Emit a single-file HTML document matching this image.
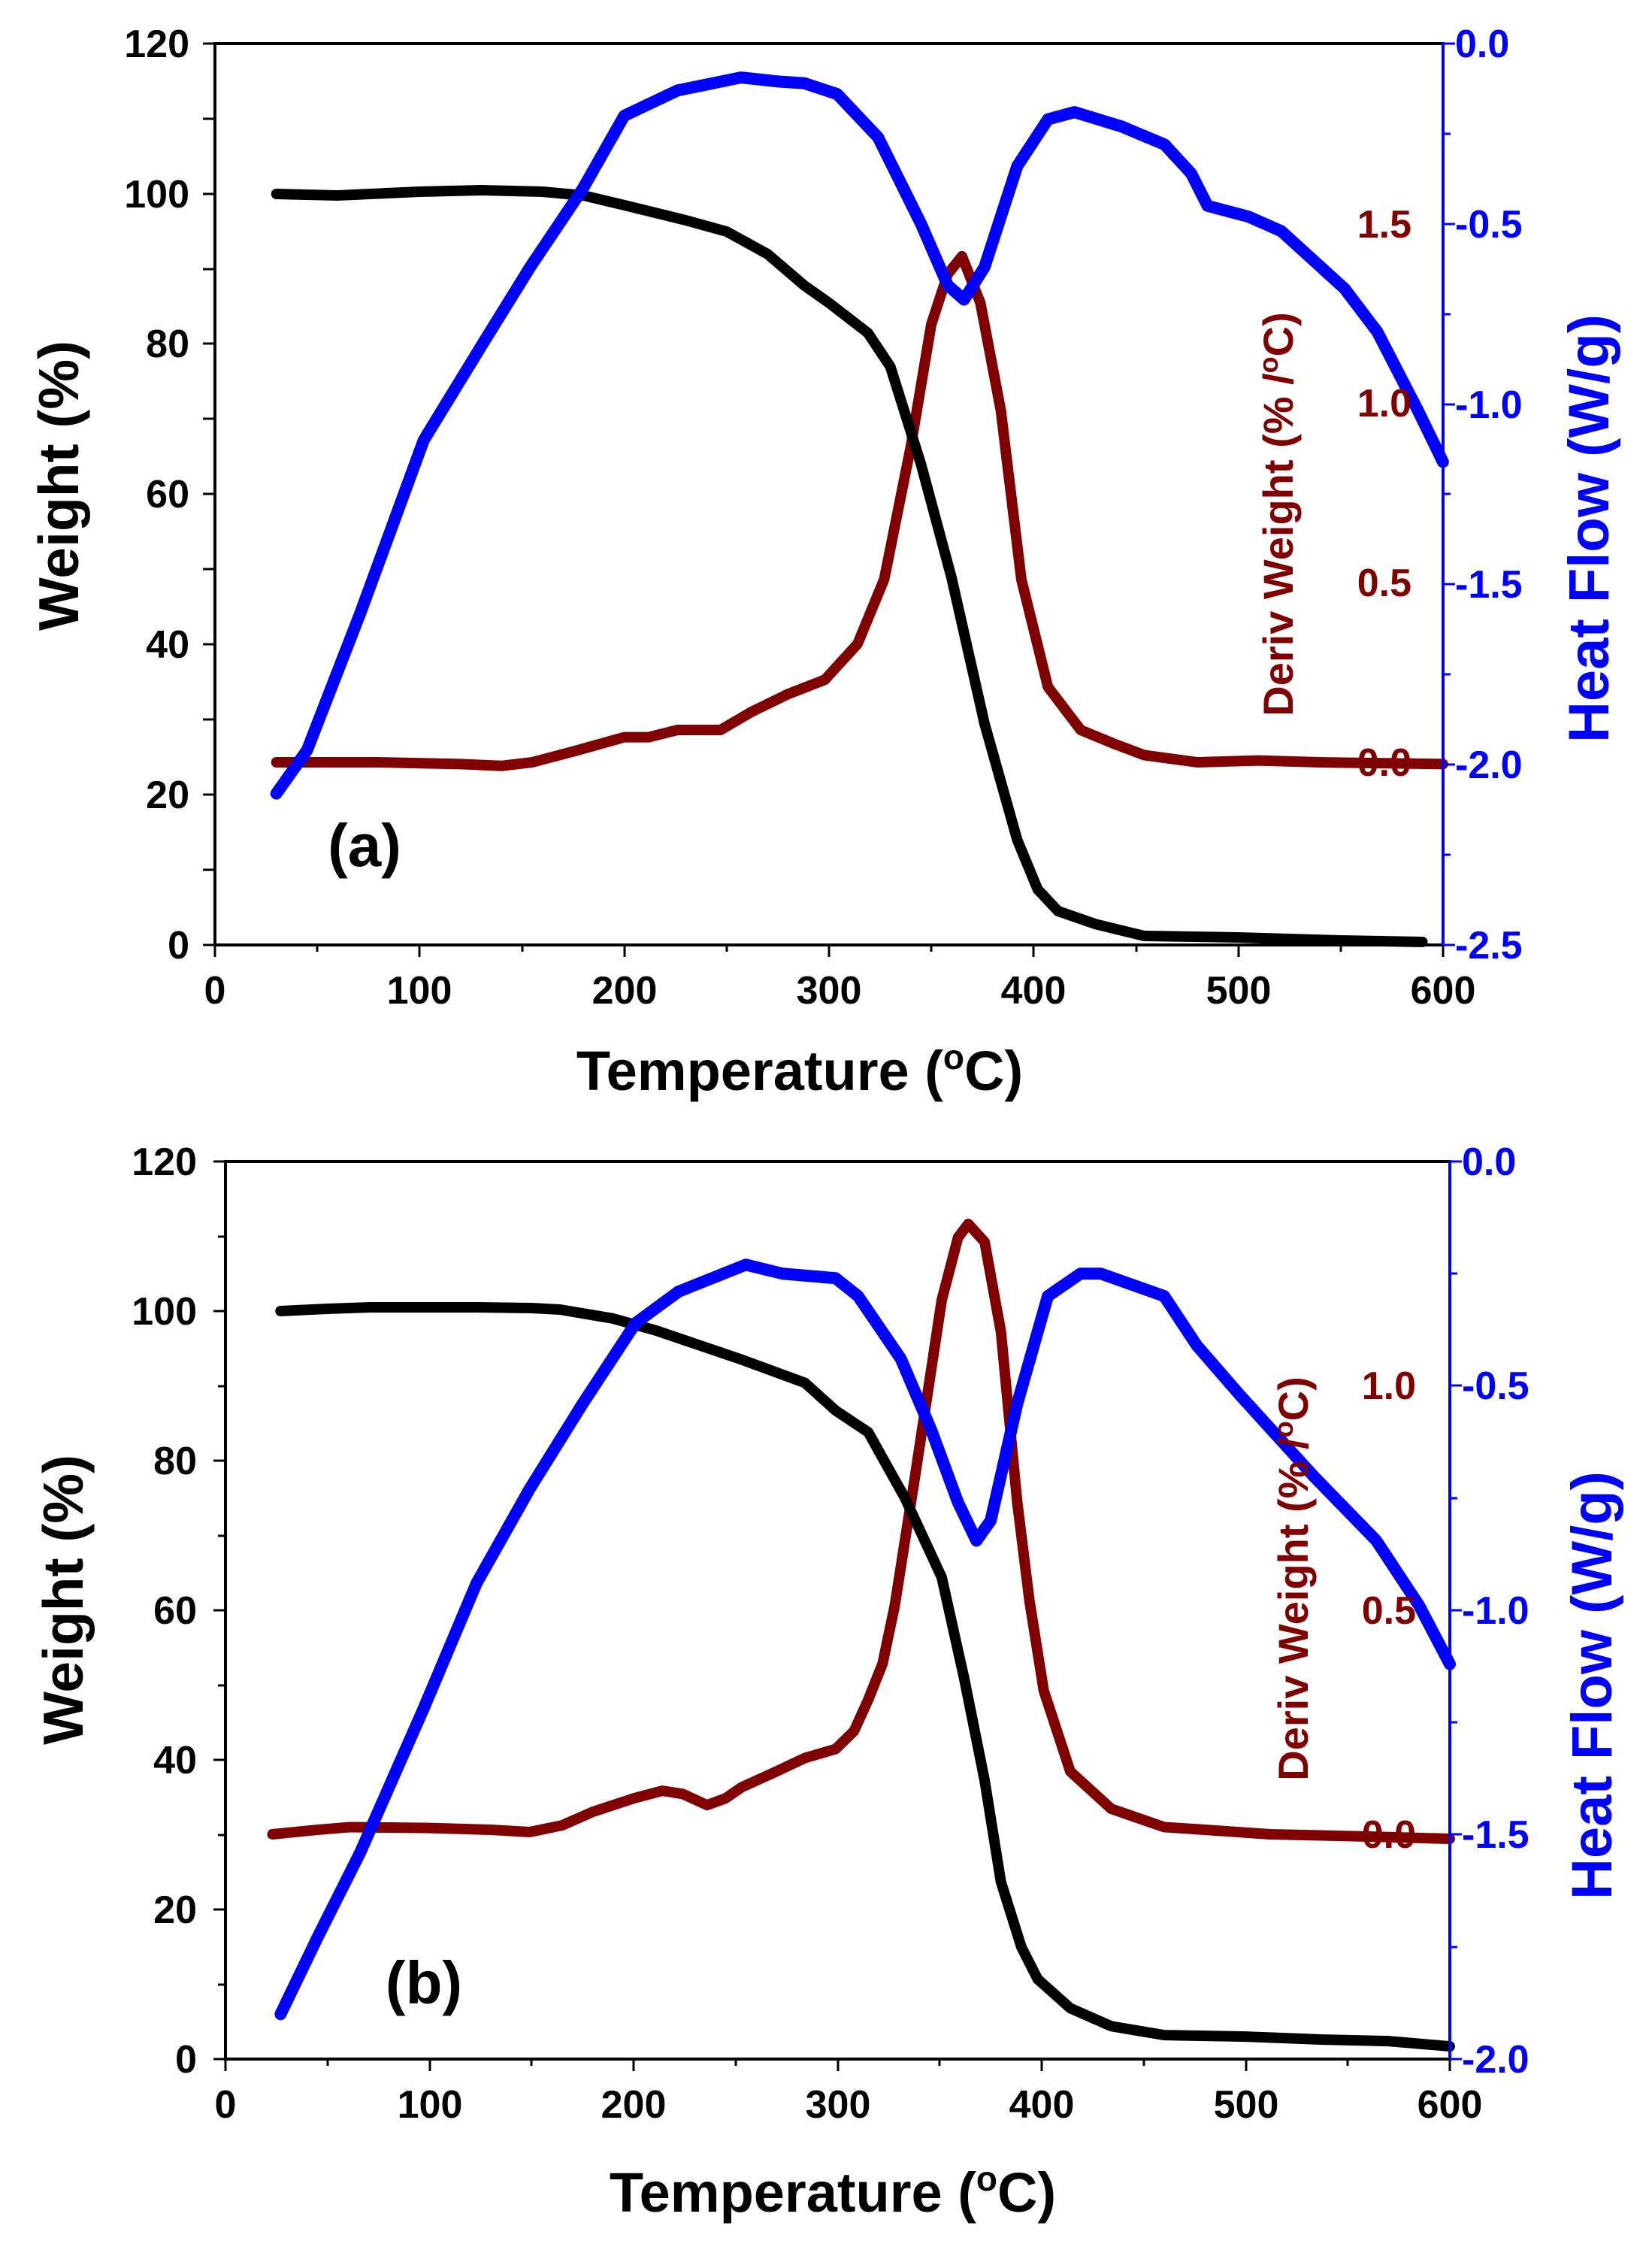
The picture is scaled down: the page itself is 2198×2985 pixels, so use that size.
<!DOCTYPE html>
<html><head><meta charset="utf-8"><style>
html,body{margin:0;padding:0;background:#fff;}
svg{display:block;}
text{font-family:"Liberation Sans",sans-serif;font-weight:bold;}
.d{fill:none;vector-effect:non-scaling-stroke;stroke-linejoin:round;stroke-linecap:round;}
</style></head><body>
<svg width="2198" height="2985" viewBox="0 0 2198 2985" xmlns="http://www.w3.org/2000/svg">
<!-- ===== Panel A ===== -->
<g id="pa">
<polyline class="d" stroke="#800000" stroke-width="14" transform="translate(286,1014) scale(2.723,-477.4)" points="30,0 80,0 120,-0.005 140,-0.01 155,0 175,0.03 200,0.07 212,0.07 226,0.09 247,0.09 262,0.14 280,0.19 298,0.23 314,0.33 327,0.51 340,0.88 350,1.22 358,1.36 365,1.41 374,1.28 384,0.98 394,0.51 407,0.21 423,0.09 440,0.05 454,0.02 480,0 510,0.005 540,0 600,-0.005"/>
<polyline class="d" stroke="#000" stroke-width="14" transform="translate(286,1257) scale(2.723,-9.99)" points="30,100 60,99.8 100,100.3 130,100.5 160,100.3 180,99.8 200,98.5 230,96.5 250,95 270,92 288,87.8 300,85.5 319,81.5 330,77 345,64 360,48.8 376,29.5 392,14 402,7.4 412,4.5 430,2.8 454,1.2 500,1 550,0.6 590,0.4"/>
<polyline class="d" stroke="#0000ff" stroke-width="16" transform="translate(286,58) scale(2.723,-479.6)" points="30,-2.08 45,-1.96 71,-1.58 102,-1.1 130,-0.84 154,-0.62 180,-0.4 200,-0.2 226,-0.13 257,-0.094 275,-0.105 288,-0.11 304,-0.14 324,-0.26 345,-0.5 358,-0.67 366,-0.71 376,-0.62 392,-0.34 407,-0.21 420,-0.19 443,-0.23 464,-0.28 477,-0.36 485,-0.45 505,-0.48 521,-0.52 552,-0.68 568,-0.8 588,-1.02 600,-1.16"/>
<path d="M286,58 H1920 M286,56 V1259 M284,1257 H1920" stroke="#000" stroke-width="4" fill="none"/>
<path d="M1920,56 V1259" stroke="#0000ff" stroke-width="4" fill="none"/>
<g stroke="#000" stroke-width="3">
<path d="M270,58H286M270,158H286M270,258H286M270,358H286M270,457H286M270,557H286M270,657H286M270,757H286M270,857H286M270,957H286M270,1057H286M270,1157H286M270,1257H286"/>
<path d="M286,1257V1273M558,1257V1273M831,1257V1273M1103,1257V1273M1375,1257V1273M1648,1257V1273M1920,1257V1273M422,1257V1266M695,1257V1266M967,1257V1266M1239,1257V1266M1512,1257V1266M1784,1257V1266"/>
</g>
<path stroke="#0000ff" stroke-width="3" d="M1920,58H1936M1920,298H1936M1920,538H1936M1920,777H1936M1920,1017H1936M1920,1257H1936M1920,178H1930M1920,418H1930M1920,657H1930M1920,897H1930M1920,1137H1930"/>
<g font-size="52" text-anchor="end">
<text x="252" y="76">120</text><text x="252" y="276">100</text><text x="252" y="475">80</text><text x="252" y="675">60</text><text x="252" y="875">40</text><text x="252" y="1075">20</text><text x="252" y="1275">0</text>
</g>
<g font-size="52" text-anchor="middle">
<text x="286" y="1335">0</text><text x="558" y="1335">100</text><text x="831" y="1335">200</text><text x="1103" y="1335">300</text><text x="1375" y="1335">400</text><text x="1648" y="1335">500</text><text x="1920" y="1335">600</text>
</g>
<g font-size="52" fill="#0000ff">
<text x="1936" y="76">0.0</text><text x="1936" y="316">-0.5</text><text x="1936" y="556">-1.0</text><text x="1936" y="795">-1.5</text><text x="1936" y="1035">-2.0</text><text x="1936" y="1275">-2.5</text>
</g>
<g font-size="52" fill="#800000" text-anchor="end">
<text x="1878" y="316">1.5</text><text x="1878" y="554">1.0</text><text x="1878" y="793">0.5</text><text x="1878" y="1032">0.0</text>
</g>
<text x="1064" y="1450" font-size="74" text-anchor="middle">Temperature (<tspan font-size="46" dy="-28">o</tspan><tspan dy="28">C)</tspan></text>
<text transform="translate(104,646) rotate(-90)" font-size="75" text-anchor="middle">Weight (%)</text>
<text transform="translate(2140,703) rotate(-90)" font-size="76" text-anchor="middle" fill="#0000ff">Heat Flow (W/g)</text>
<text transform="translate(1720,684) rotate(-90)" font-size="56" text-anchor="middle" fill="#800000">Deriv Weight (% /<tspan font-size="36" dy="-20">o</tspan><tspan dy="20">C)</tspan></text>
<text x="485" y="1152" font-size="80" text-anchor="middle">(a)</text>
</g>

<!-- ===== Panel B ===== -->
<g id="pb">
<polyline class="d" stroke="#800000" stroke-width="14" transform="translate(300,2440) scale(2.715,-597)" points="23,0 45,0.01 61,0.016 100,0.014 130,0.01 149,0.005 165,0.02 180,0.05 200,0.08 214,0.097 224,0.09 236,0.065 245,0.08 253,0.105 270,0.14 284,0.17 299,0.19 308,0.23 315,0.30 322,0.38 328,0.51 338,0.80 351,1.19 359,1.33 364,1.36 372,1.32 380,1.12 388,0.74 394,0.52 401,0.32 414,0.14 434,0.057 460,0.016 480,0.01 512,0 560,-0.005 600,-0.01"/>
<polyline class="d" stroke="#000" stroke-width="14" transform="translate(300,2739) scale(2.715,-9.95)" points="27,100 50,100.3 71,100.5 123,100.5 150,100.4 164,100.2 190,99 211,97.4 253,93.5 284,90.4 299,86.7 315,83.8 333,75 351,64.4 362,50.9 372,37.3 380,23.7 390,15 398,10.7 414,6.8 434,4.4 460,3.2 500,3 538,2.6 570,2.4 600,1.7"/>
<polyline class="d" stroke="#0000ff" stroke-width="16" transform="translate(300,1545) scale(2.715,-597)" points="27,-1.9 45,-1.73 66,-1.54 97,-1.22 123,-0.94 149,-0.73 175,-0.54 201,-0.36 222,-0.29 255,-0.23 273,-0.25 299,-0.26 310,-0.30 331,-0.44 346,-0.60 359,-0.76 368,-0.845 375,-0.80 388,-0.54 403,-0.30 419,-0.25 429,-0.25 460,-0.30 476,-0.41 497,-0.52 533,-0.70 564,-0.845 585,-0.99 600,-1.12"/>
<path d="M300,1545 H1929 M300,1543 V2741 M298,2739 H1929" stroke="#000" stroke-width="4" fill="none"/>
<path d="M1929,1543 V2741" stroke="#0000ff" stroke-width="4" fill="none"/>
<g stroke="#000" stroke-width="3">
<path d="M284,1545H300M284,1744H300M284,1943H300M284,2142H300M284,2341H300M284,2540H300M284,2739H300M300,1645H290M300,1844H290M300,2043H290M300,2242H290M300,2441H290M300,2640H290"/>
<path d="M300,2739V2755M572,2739V2755M843,2739V2755M1115,2739V2755M1386,2739V2755M1658,2739V2755M1929,2739V2755M436,2739V2748M707,2739V2748M979,2739V2748M1250,2739V2748M1522,2739V2748M1793,2739V2748"/>
</g>
<path stroke="#0000ff" stroke-width="3" d="M1929,1545H1945M1929,1843H1945M1929,2142H1945M1929,2440H1945M1929,2739H1945M1929,1694H1939M1929,1993H1939M1929,2291H1939M1929,2590H1939"/>
<g font-size="52" text-anchor="end">
<text x="262" y="1563">120</text><text x="262" y="1762">100</text><text x="262" y="1961">80</text><text x="262" y="2160">60</text><text x="262" y="2359">40</text><text x="262" y="2558">20</text><text x="262" y="2757">0</text>
</g>
<g font-size="52" text-anchor="middle">
<text x="300" y="2817">0</text><text x="572" y="2817">100</text><text x="843" y="2817">200</text><text x="1115" y="2817">300</text><text x="1386" y="2817">400</text><text x="1658" y="2817">500</text><text x="1929" y="2817">600</text>
</g>
<g font-size="52" fill="#0000ff">
<text x="1945" y="1563">0.0</text><text x="1945" y="1861">-0.5</text><text x="1945" y="2160">-1.0</text><text x="1945" y="2458">-1.5</text><text x="1945" y="2757">-2.0</text>
</g>
<g font-size="52" fill="#800000" text-anchor="end">
<text x="1884" y="1861">1.0</text><text x="1884" y="2160">0.5</text><text x="1884" y="2458">0.0</text>
</g>
<text x="1108" y="2942" font-size="74" text-anchor="middle">Temperature (<tspan font-size="46" dy="-28">o</tspan><tspan dy="28">C)</tspan></text>
<text transform="translate(110,2128) rotate(-90)" font-size="75" text-anchor="middle">Weight (%)</text>
<text transform="translate(2144,2242) rotate(-90)" font-size="76" text-anchor="middle" fill="#0000ff">Heat Flow (W/g)</text>
<text transform="translate(1740,2100) rotate(-90)" font-size="56" text-anchor="middle" fill="#800000">Deriv Weight (% /<tspan font-size="36" dy="-20">o</tspan><tspan dy="20">C)</tspan></text>
<text x="564" y="2665" font-size="80" text-anchor="middle">(b)</text>
</g>
</svg>
</body></html>
